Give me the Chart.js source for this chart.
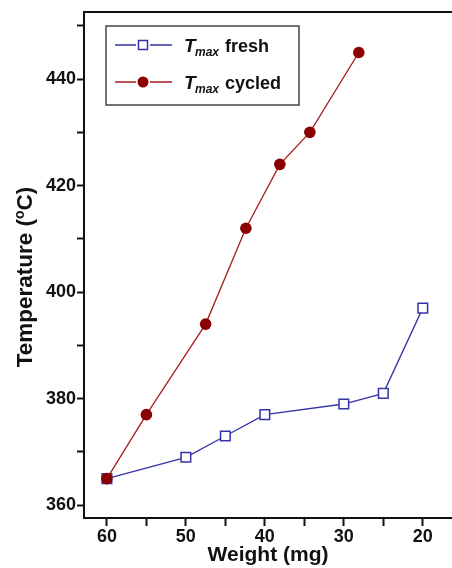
<!DOCTYPE html>
<html>
<head>
<meta charset="utf-8">
<script src="https://cdn.jsdelivr.net/npm/chart.js@4"></script>
<style>
  html, body { margin: 0; padding: 0; background: #fff; }
  #wrap { width: 452px; height: 568px; }
</style>
</head>
<body>
<div id="wrap"><canvas id="c" width="452" height="568"></canvas></div>
<script>
// ---- data ----
const freshWeight  = [60, 50, 45, 40, 30, 25, 20];
const freshTemp    = [365, 369, 373, 377, 379, 381, 397];
const cycledWeight = [60, 55, 47.5, 42.4, 38.1, 34.3, 28.1];
const cycledTemp   = [365, 377, 394, 412, 424, 430, 445];
const xLabelTicks  = [60, 50, 40, 30, 20];
const yLabelTicks  = [360, 380, 400, 420, 440];
const seriesNames  = ['fresh', 'cycled'];

const BLUE = '#3434a8';
const RED_LINE = '#a31c1c';
const RED_FILL = '#8b0000';
const FONT = 'Liberation Sans, Arial, sans-serif';

const toPts = (xs, ys) => xs.map((x, i) => ({x: x, y: ys[i]}));

const framePlugin = {
  id: 'frame',
  afterDraw(chart) {
    const ctx = chart.ctx, a = chart.chartArea;
    ctx.save();
    // top frame line
    ctx.strokeStyle = '#111';
    ctx.lineWidth = 2;
    ctx.beginPath();
    ctx.moveTo(a.left - 1, a.top);
    ctx.lineTo(chart.width, a.top);
    ctx.stroke();

    // y axis title with superscript o
    ctx.fillStyle = '#111';
    ctx.textBaseline = 'alphabetic';
    ctx.textAlign = 'left';
    const big = 'bold 22.5px ' + FONT, small = 'bold 14px ' + FONT;
    const p1 = 'Temperature (', p2 = 'o', p3 = 'C)';
    ctx.font = big; const w1 = ctx.measureText(p1).width, w3 = ctx.measureText(p3).width;
    ctx.font = small; const w2 = ctx.measureText(p2).width;
    const total = w1 + w2 + w3;
    ctx.translate(32, 277);
    ctx.rotate(-Math.PI / 2);
    let x0 = -total / 2;
    ctx.font = big; ctx.fillText(p1, x0, 0);
    ctx.font = small; ctx.fillText(p2, x0 + w1, -8);
    ctx.font = big; ctx.fillText(p3, x0 + w1 + w2, 0);
    ctx.restore();

    // legend box
    ctx.save();
    const bx = 106, by = 26, bw = 193, bh = 79;
    ctx.strokeStyle = '#444';
    ctx.lineWidth = 1.5;
    ctx.strokeRect(bx, by, bw, bh);
    const rows = [
      {y: 45, color: BLUE, square: true, name: seriesNames[0]},
      {y: 82, color: RED_LINE, square: false, name: seriesNames[1]}
    ];
    rows.forEach(r => {
      ctx.strokeStyle = r.color;
      ctx.lineWidth = 1.3;
      ctx.beginPath();
      ctx.moveTo(115, r.y); ctx.lineTo(136, r.y);
      ctx.moveTo(150, r.y); ctx.lineTo(172, r.y);
      ctx.stroke();
      if (r.square) {
        ctx.fillStyle = '#fff';
        ctx.lineWidth = 1.5;
        ctx.fillRect(138.5, r.y - 4.5, 9, 9);
        ctx.strokeRect(138.5, r.y - 4.5, 9, 9);
      } else {
        ctx.fillStyle = RED_FILL;
        ctx.beginPath();
        ctx.arc(143, r.y, 5.5, 0, Math.PI * 2);
        ctx.fill();
      }
      ctx.fillStyle = '#111';
      ctx.textAlign = 'left';
      ctx.textBaseline = 'alphabetic';
      ctx.font = 'italic bold 19px ' + FONT;
      ctx.fillText('T', 184, r.y + 7);
      ctx.font = 'italic bold 12px ' + FONT;
      ctx.fillText('max', 195, r.y + 11);
      ctx.font = 'bold 18px ' + FONT;
      ctx.fillText(r.name, 225, r.y + 7);
    });
    ctx.restore();
  }
};

new Chart(document.getElementById('c'), {
  type: 'scatter',
  data: {
    datasets: [
      {
        label: 'Tmax cycled',
        data: toPts(cycledWeight, cycledTemp),
        showLine: true,
        borderColor: RED_LINE,
        borderWidth: 1.3,
        pointStyle: 'circle',
        pointRadius: 5.8,
        pointBackgroundColor: RED_FILL,
        pointBorderColor: RED_FILL,
        pointBorderWidth: 0
      },
      {
        label: 'Tmax fresh',
        data: toPts(freshWeight, freshTemp),
        showLine: true,
        borderColor: BLUE,
        borderWidth: 1.3,
        pointStyle: 'rect',
        pointRadius: 6.8,
        pointBackgroundColor: '#fff',
        pointBorderColor: BLUE,
        pointBorderWidth: 1.5
      }
    ]
  },
  options: {
    responsive: false,
    animation: false,
    devicePixelRatio: 1,
    layout: { autoPadding: false, padding: { top: 12, right: 0, left: 0, bottom: 0 } },
    plugins: { legend: { display: false }, tooltip: { enabled: false } },
    scales: {
      x: {
        type: 'linear',
        reverse: true,
        min: 16.3,
        max: 62.9,
        afterBuildTicks(scale) {
          const t = [];
          for (let v = 20; v <= 60; v += 5) t.push({value: v});
          scale.ticks = t;
        },
        afterFit(scale) { scale.height = 50; scale.paddingLeft = 0; scale.paddingRight = 0; },
        border: { display: true, color: '#111', width: 2 },
        grid: { display: true, drawOnChartArea: false, drawTicks: true, tickLength: 8, tickWidth: 2, tickColor: '#111' },
        ticks: {
          color: '#111',
          padding: 0,
          maxRotation: 0,
          autoSkip: false,
          font: { family: FONT, size: 18, weight: 'bold' },
          callback: v => xLabelTicks.includes(v) ? String(v) : ''
        },
        title: {
          display: true,
          text: 'Weight (mg)',
          color: '#111',
          font: { family: FONT, size: 21, weight: 'bold' },
          padding: { top: 0, bottom: 0 }
        }
      },
      y: {
        type: 'linear',
        min: 357.6,
        max: 452.6,
        afterBuildTicks(scale) {
          const t = [];
          for (let v = 360; v <= 450; v += 10) t.push({value: v});
          scale.ticks = t;
        },
        afterFit(scale) { scale.width = 84; scale.paddingTop = 0; scale.paddingBottom = 0; },
        border: { display: true, color: '#111', width: 2 },
        grid: { display: true, drawOnChartArea: false, drawTicks: true, tickLength: 7, tickWidth: 2, tickColor: '#111' },
        ticks: {
          color: '#111',
          padding: 1,
          autoSkip: false,
          font: { family: FONT, size: 18, weight: 'bold' },
          callback: v => yLabelTicks.includes(v) ? String(v) : ''
        },
        title: { display: false }
      }
    }
  },
  plugins: [framePlugin]
});
</script>
</body>
</html>
